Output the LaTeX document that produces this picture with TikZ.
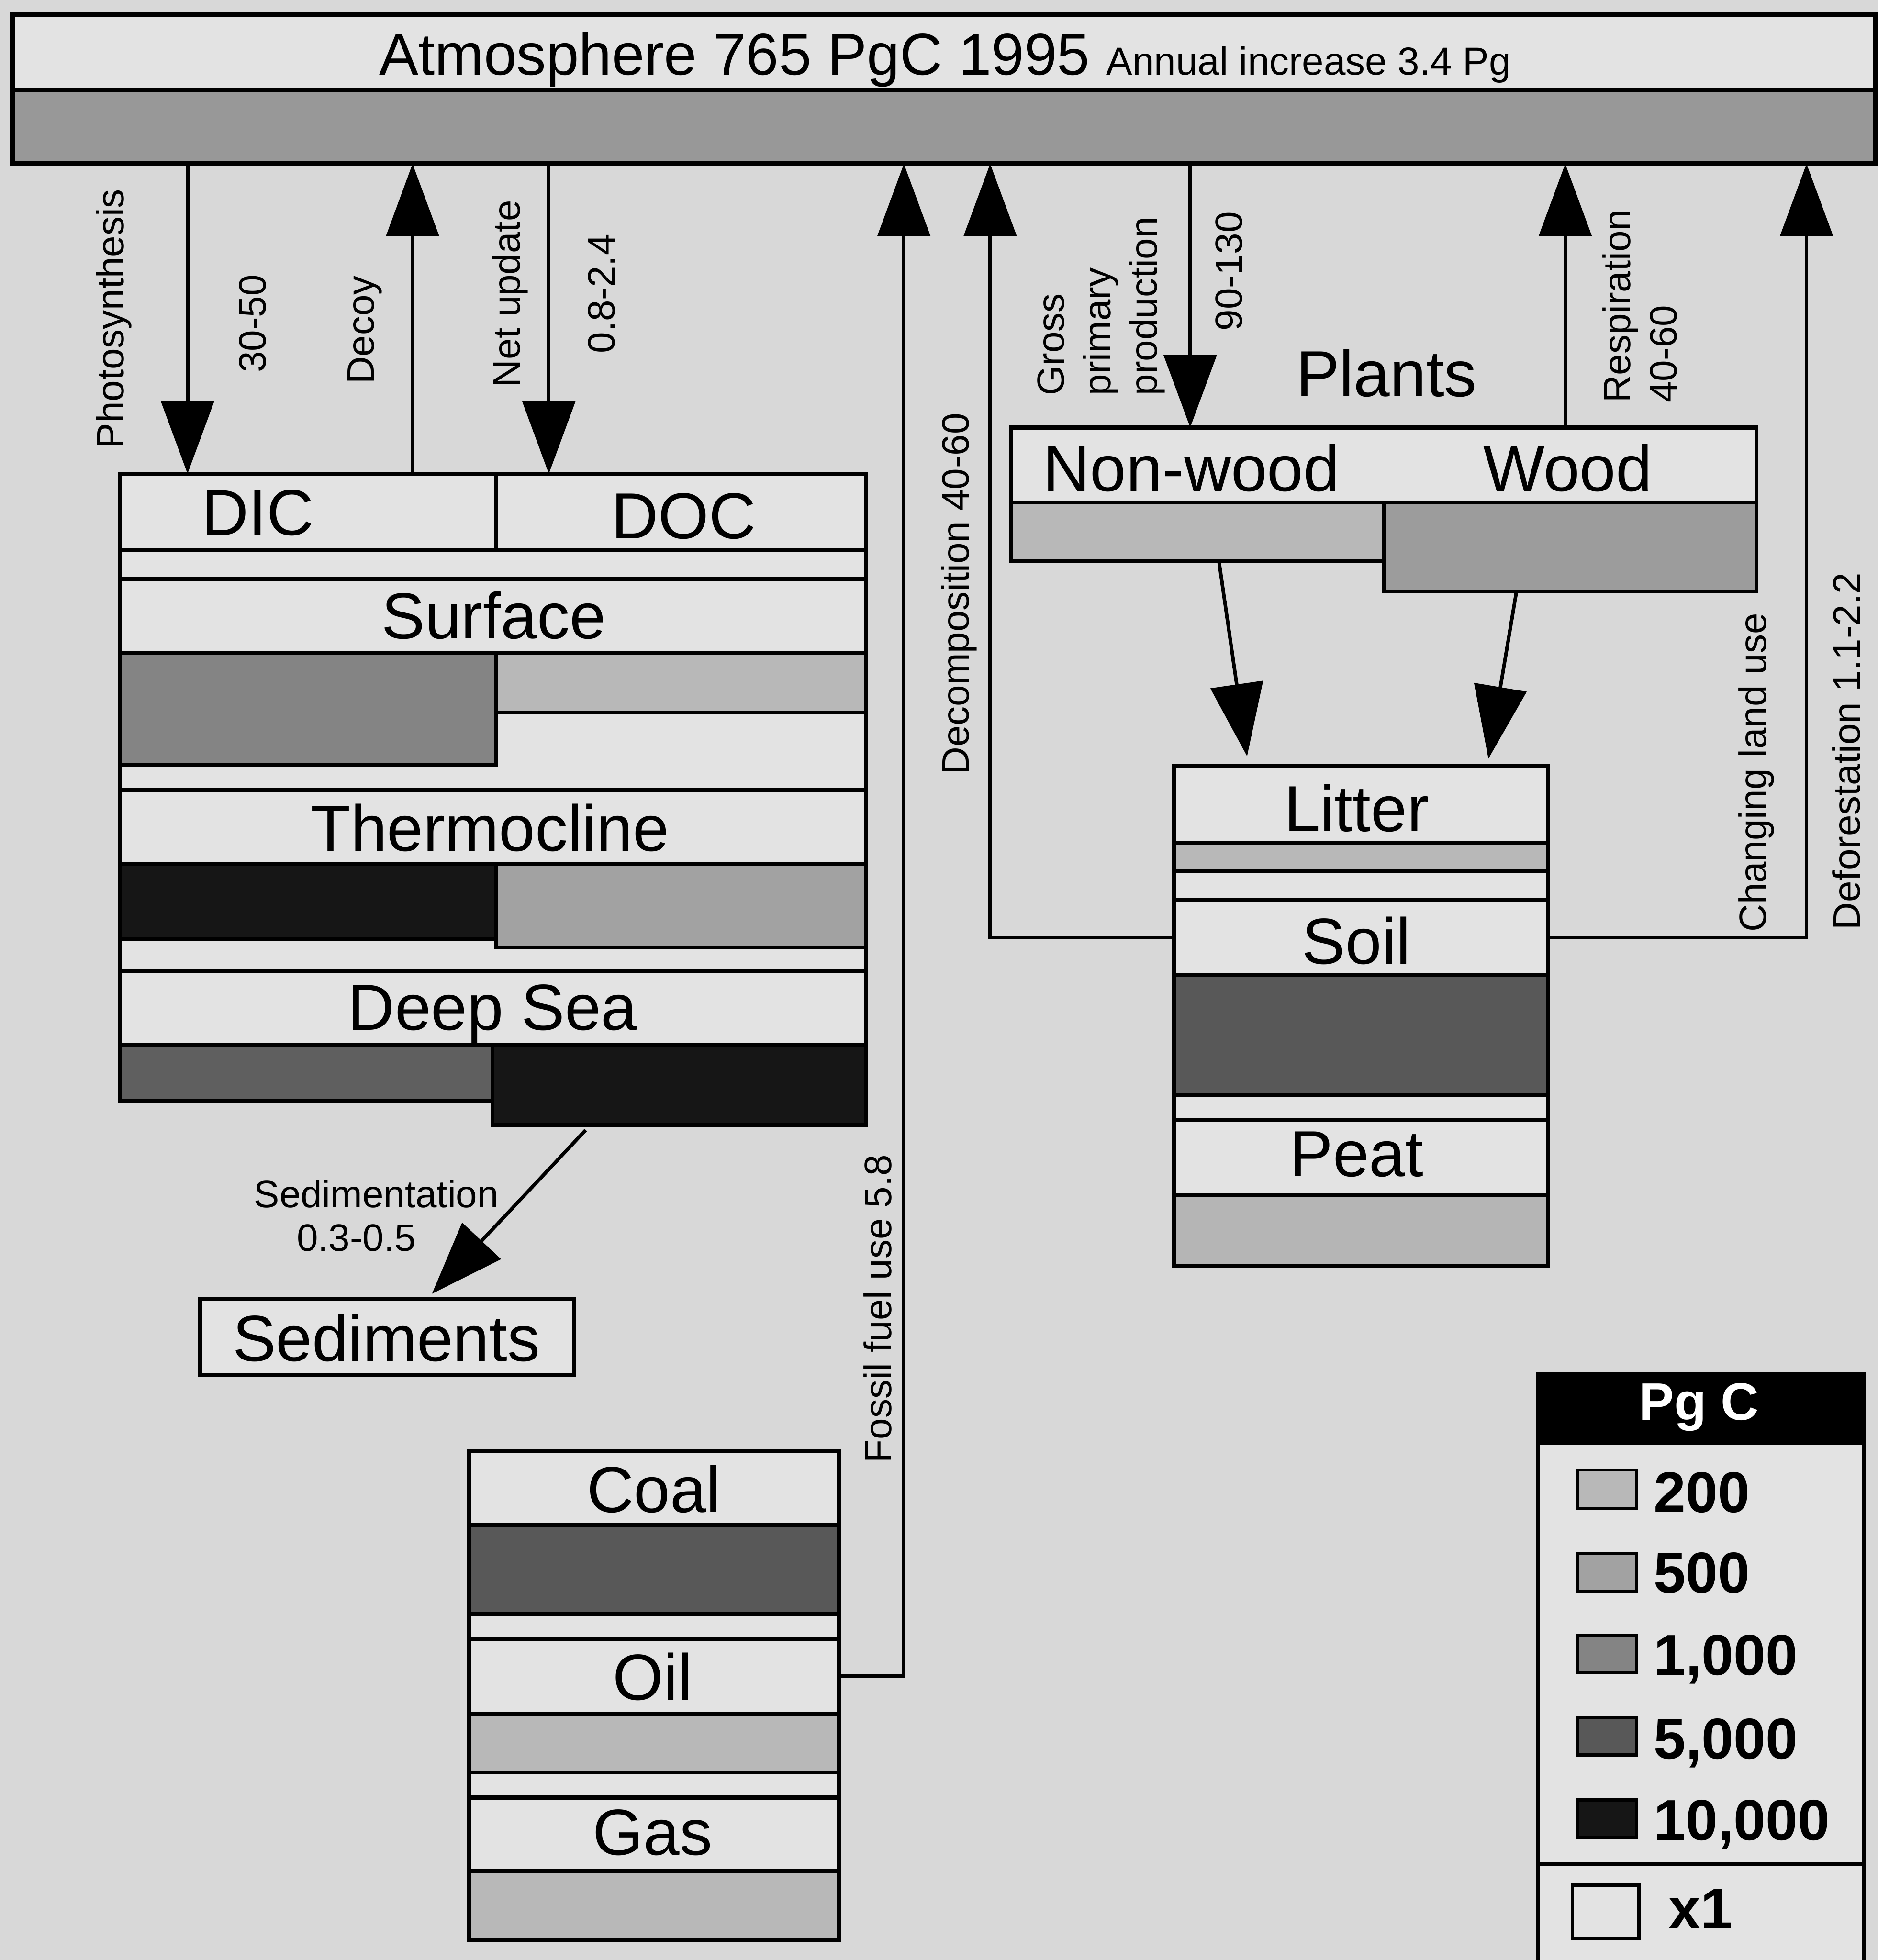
\documentclass[tikz,border=0pt]{standalone}
\usepackage{fontspec}
\setmainfont{Liberation Sans}
\usetikzlibrary{arrows.meta,fit,calc}
\definecolor{bg}{HTML}{D8D8D8}
\definecolor{boxc}{HTML}{E3E3E3}
\definecolor{atmc}{HTML}{989898}
\definecolor{cA}{HTML}{B8B8B8}
\definecolor{cB}{HTML}{A2A2A2}
\definecolor{cC}{HTML}{848484}
\definecolor{cD}{HTML}{585858}
\definecolor{cE}{HTML}{161616}
\begin{document}
\begin{tikzpicture}[x=0.01cm, y=-0.01cm,
  cell/.style={draw=black, line width=0.9pt, fill=boxc, inner sep=0pt, outer sep=0pt},
  swatch/.style={draw=black, line width=0.7pt, inner sep=0pt, outer sep=0pt},
  big/.style={inner sep=0pt, anchor=base, font=\fontsize{14.8pt}{17pt}\selectfont},
  small/.style={inner sep=0pt, font=\fontsize{8.7pt}{10.6pt}\selectfont},
  vsmall/.style={small, rotate=90},
  legnum/.style={inner sep=0pt, anchor=base west, font=\fontsize{13.1pt}{15pt}\selectfont\bfseries},
  flow/.style={line width=0.8pt, -{Triangle[width=0.42cm,length=0.58cm]}},
]
\useasboundingbox (0,0) rectangle (1502,1568);
\clip (0,0) rectangle (1502,1568);
\fill[bg] (0,0) rectangle (1502,1568);

% ---------------- Atmosphere
\node[cell, line width=1.1pt, fit={(10,12) (1500,72)}] (atmh) {};
\node[cell, line width=1.1pt, fill=atmc, fit={(10,72) (1500,131)}] (atmbar) {};
\node[inner sep=0pt, anchor=base] (tatm) at (756,60)
  {\fontsize{13.4pt}{16pt}\selectfont Atmosphere 765 PgC 1995 \fontsize{8.9pt}{10pt}\selectfont Annual increase 3.4 Pg};

% ---------------- Ocean
\node[cell, fit={(96,379) (397,440)}] (dic) {};
\node[cell, fit={(397,379) (693,440)}] (doc) {};
\node[cell, fit={(96,440) (693,463)}] (ogap) {};
\node[cell, fit={(96,463) (693,522)}] (surfh) {};
\node[cell, fit={(96,522) (693,632)}] (surfbg) {};
\node[cell, fill=cC, fit={(96,522) (397,612)}] (surfdic) {};
\node[cell, fill=cA, fit={(397,522) (693,570)}] (surfdoc) {};
\node[cell, fit={(96,632) (693,691)}] (thermh) {};
\node[cell, fit={(96,691) (693,777)}] (thermbg) {};
\node[cell, fill=cE, fit={(96,691) (397,751)}] (thermdic) {};
\node[cell, fill=cB, fit={(397,691) (693,758)}] (thermdoc) {};
\node[cell, fit={(96,777) (693,836)}] (deeph) {};
\node[cell, fill=cD!85!cC, fit={(96,836) (394,881)}] (deepdic) {};
\node[cell, fill=cE, fit={(394,836) (693,900)}] (deepdoc) {};
\node[big] (tdic) at (206,428) {DIC};
\node[big] (tdoc) at (547,431) {DOC};
\node[big] (tsurf) at (395,511) {Surface};
\node[big] (ttherm) at (392,681) {Thermocline};
\node[big] (tdeep) at (394,824) {Deep Sea};

% ---------------- Sediments
\node[cell, fit={(160,1039) (459,1100)}] (sed) {};
\node[big] (tsed) at (309,1089) {Sediments};

% ---------------- Fossil fuels
\node[cell, fit={(375,1161) (671,1220)}] (coalh) {};
\node[cell, fill=cD, fit={(375,1220) (671,1291)}] (coalbar) {};
\node[cell, fit={(375,1291) (671,1311)}] (fgap1) {};
\node[cell, fit={(375,1311) (671,1371)}] (oilh) {};
\node[cell, fill=cA, fit={(375,1371) (671,1418)}] (oilbar) {};
\node[cell, fit={(375,1418) (671,1438)}] (fgap2) {};
\node[cell, fit={(375,1438) (671,1497)}] (gash) {};
\node[cell, fill=cA, fit={(375,1497) (671,1552)}] (gasbar) {};
\node[big] (tcoal) at (523,1210) {Coal};
\node[big] (toil) at (522,1360) {Oil};
\node[big] (tgas) at (522,1484) {Gas};

% ---------------- Plants
\node[cell, fit={(809,342) (1405,402)}] (planth) {};
\node[cell, fill=cA, fit={(809,402) (1107,449)}] (nwbar) {};
\node[cell, fill=cB!80!cC, fit={(1107,402) (1405,473)}] (woodbar) {};
\node[big] (tnw) at (953,393) {Non-wood};
\node[big] (twood) at (1254,393) {Wood};
\node[big] (tplants) at (1109,317) {Plants};

% ---------------- Litter / Soil / Peat
\node[cell, fit={(939,613) (1238,674)}] (litterh) {};
\node[cell, fill=cA, fit={(939,674) (1238,697)}] (litterbar) {};
\node[cell, fit={(939,697) (1238,720)}] (lgap1) {};
\node[cell, fit={(939,720) (1238,780)}] (soilh) {};
\node[cell, fill=cD, fit={(939,780) (1238,876)}] (soilbar) {};
\node[cell, fit={(939,876) (1238,896)}] (lgap2) {};
\node[cell, fit={(939,896) (1238,956)}] (peath) {};
\node[cell, fill=cA!85!cB, fit={(939,956) (1238,1013)}] (peatbar) {};
\node[big] (tlitter) at (1085,665) {Litter};
\node[big] (tsoil) at (1085,771) {Soil};
\node[big] (tpeat) at (1085,941) {Peat};

% ---------------- helper x positions
\coordinate (xPh) at (150,0);
\coordinate (xDe) at (330,0);
\coordinate (xNu) at (439,0);
\coordinate (xFo) at (723,0);
\coordinate (xDc) at (792,0);
\coordinate (xGp) at (952,0);
\coordinate (xRe) at (1252,0);
\coordinate (xDf) at (1445,0);

% ---------------- flows
\draw[flow] (atmbar.south -| xPh) -- (dic.north -| xPh);
\draw[flow] (dic.north -| xDe) -- (atmbar.south -| xDe);
\draw[flow] (atmbar.south -| xNu) -- (doc.north -| xNu);
\draw[flow] (oilh.east) -| (atmbar.south -| xFo);
\draw[flow] (soilh.west) -| (atmbar.south -| xDc);
\draw[flow] (atmbar.south -| xGp) -- (planth.north -| xGp);
\draw[flow] (planth.north -| xRe) -- (atmbar.south -| xRe);
\draw[flow] (soilh.east) -| (atmbar.south -| xDf);
\draw[flow] ($(nwbar.south)+(17,0)$) -- ($(litterh.north)+(-91,-8)$);
\draw[flow] ($(woodbar.south)+(-43,0)$) -- ($(litterh.north)+(102,-6)$);
\draw[flow] ($(deepdoc.south)+(-75,4)$) -- ($(sed.north)+(36,-4)$);

% ---------------- flow labels
\node[vsmall] (lph) at (91,255) {Photosynthesis};
\node[vsmall] (l3050) at (202,259) {30-50};
\node[vsmall] (lde) at (292,264) {Decoy};
\node[vsmall] (lnu) at (408,235) {Net update};
\node[vsmall] (lnuv) at (481,235) {0.8-2.4};
\node[vsmall] (lfo) at (702,1047) {Fossil fuel use 5.8};
\node[vsmall] (ldc) at (767,475) {Decomposition 40-60};
\node[vsmall, anchor=north west, align=left] (lgp) at (829,317) {Gross\\primary\\production};
\node[vsmall] (lgpv) at (983,217) {90-130};
\node[vsmall, anchor=north west, align=left] (lre) at (1281,323) {Respiration\\40-60};
\node[vsmall] (lcl) at (1405,618) {Changing land use};
\node[vsmall] (ldf) at (1477,601) {Deforestation 1.1-2.2};
\node[small, anchor=base] (lsed) at (301,966) {Sedimentation};
\node[small, anchor=base] (lsedv) at (285,1001) {0.3-0.5};

% ---------------- legend
\node[cell, fit={(1230,1099) (1491,1590)}] (leg) {};
\node[cell, fill=black, fit={(1230,1099) (1491,1154)}] (leghead) {};
\node[inner sep=0pt, anchor=base, text=white, font=\fontsize{12pt}{14pt}\selectfont\bfseries] (tpgc) at (1359,1136) {Pg C};
\coordinate (ydiv) at (0,1491);
\draw[line width=0.9pt] (leg.west |- ydiv) -- (leg.east |- ydiv);
\node[swatch, fill=cA, fit={(1262,1176) (1309,1207)}] (s1) {};
\node[swatch, fill=cB, fit={(1262,1243) (1309,1273)}] (s2) {};
\node[swatch, fill=cC, fit={(1262,1308) (1309,1338)}] (s3) {};
\node[swatch, fill=cD, fit={(1262,1374) (1309,1404)}] (s4) {};
\node[swatch, fill=cE, fit={(1262,1440) (1309,1470)}] (s5) {};
\node[swatch, fill=boxc, fit={(1258,1508) (1311,1551)}] (s6) {};
\node[legnum] (n1) at (1322,1210) {200};
\node[legnum] (n2) at (1322,1274) {500};
\node[legnum] (n3) at (1322,1340) {1,000};
\node[legnum] (n4) at (1322,1407) {5,000};
\node[legnum] (n5) at (1322,1472) {10,000};
\node[legnum] (n6) at (1334,1543) {x1};
\end{tikzpicture}
\end{document}
